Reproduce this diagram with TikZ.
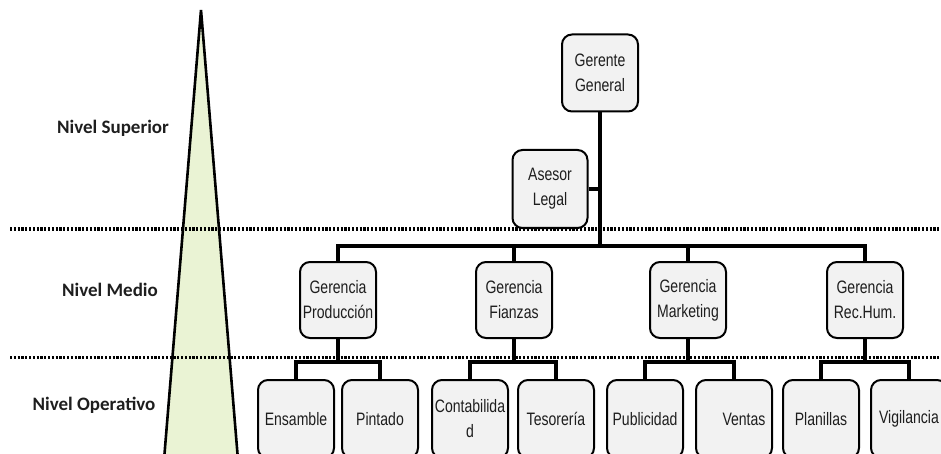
\documentclass[tikz,border=0pt]{standalone}
\usepackage{fontspec}
\setmainfont{Liberation Sans}
\newfontfamily\boxfont[FakeStretch=0.78]{Liberation Sans}
\newfontfamily\levelfont{Carlito}
\definecolor{ChartInk}{HTML}{1E1E1E}
\definecolor{ChartBox}{HTML}{F2F2F2}
\definecolor{ChartApex}{HTML}{EAF3D4}
\tikzset{
  every node/.style={text=ChartInk},
  unit/.style={draw=black, line width=2pt, fill=ChartBox, rounded corners=10pt,
    minimum width=76pt, minimum height=76pt, inner sep=1pt, align=center,
    font=\boxfont\fontsize{18}{25}\selectfont},
  leaf/.style={unit, minimum height=78pt},
  link/.style={draw=black, line width=3.6pt},
  levelline/.style={draw=black, line width=3pt, dash pattern=on 2.2pt off 1.6pt},
  level/.style={font=\levelfont\bfseries\fontsize{19}{22}\selectfont},
}
\begin{document}
\begin{tikzpicture}[x=1pt, y=-1pt]
  \useasboundingbox (0,0) rectangle (941,454);
  \clip (0,0) rectangle (941,454);
  % Pyramid
  \fill[ChartApex] (201,10) -- (164,460) -- (238,460) -- cycle;
  \draw[black, line width=2.6pt] (164,460) -- (201,10) -- (238,460);
  % Level boundaries
  \draw[levelline] (10,229) -- (941,229);
  \draw[levelline] (10,357) -- (941,357);
  % Level names
  \node[level] (sup) at (113,128) {Nivel Superior};
  \node[level] (med) at (110,290) {Nivel Medio};
  \node[level] (ope) at (94,405) {Nivel Operativo};
  % Top
  \coordinate (hbus) at (0,246);
  \coordinate (sbus) at (0,362);
  \node[unit, minimum height=77pt] (gg) at (600,73) {Gerente\\General};
  \node[unit, minimum width=75pt, minimum height=78pt] (al) at (550,189) {Asesor\\Legal};
  % Gerencias
  \node[unit] (prod) at (338,300) {Gerencia\\Producción};
  \node[unit] (fin) at (514,300) {Gerencia\\Fianzas};
  \node[unit] (mkt) at (688,300) {Gerencia\\Marketing};
  \node[unit] (rh) at (865,300) {Gerencia\\Rec.Hum.};
  % Operative units
  \node[leaf] (ens) at (296,419) {Ensamble};
  \node[leaf] (pin) at (380,419) {Pintado};
  \node[leaf] (con) at (470,419) {Contabilida\\d};
  \node[leaf] (tes) at (556,419) {Tesorería};
  \node[leaf] (pub) at (645,419) {Publicidad};
  \node[leaf] (ven) at (734,419) {\hspace*{20pt}Ventas};
  \node[leaf] (pla) at (821,419) {Planillas};
  \node[leaf] (vig) at (909,419) {Vigilancia};
  % Connectors
  \draw[link] (gg.south) -- (gg.south |- hbus);
  \draw[link] (al.east) -- (al.east -| gg.south);
  \draw[link] (prod.north) |- (rh.north |- hbus) -- (rh.north);
  \draw[link] (fin.north) -- (fin.north |- hbus);
  \draw[link] (mkt.north) -- (mkt.north |- hbus);
  \foreach \boss/\first/\second in {prod/ens/pin, fin/con/tes, mkt/pub/ven, rh/pla/vig} {
    \draw[link] (\boss.south) -- (\boss.south |- sbus);
    \draw[link] (\first.north) |- (\second.north |- sbus) -- (\second.north);
  }
\end{tikzpicture}
\end{document}
